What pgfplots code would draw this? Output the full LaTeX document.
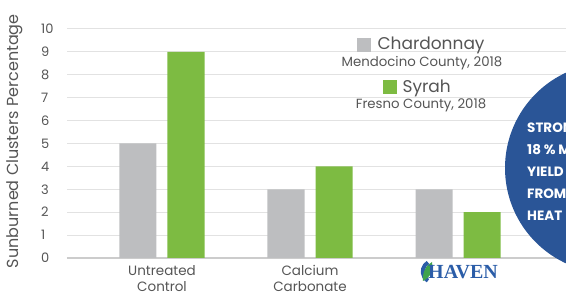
\documentclass[border=0pt]{standalone}
\usepackage{pgfplots}
\pgfplotsset{compat=1.18}
\usepackage{fontspec}
\setmainfont{Poppins}
\newfontfamily\serifhaven{Liberation Serif}
\definecolor{chgray}{HTML}{BDBEC0}
\definecolor{syrgreen}{HTML}{7DBB42}
\definecolor{circblue}{HTML}{2A5597}
\definecolor{txtgray}{HTML}{555555}
\definecolor{gridgray}{HTML}{E2E2E2}
\definecolor{havenblue}{HTML}{2B5DA8}
\definecolor{leafgreen}{HTML}{3FA34D}
\begin{document}
\begin{tikzpicture}[x=1pt,y=1pt]
\useasboundingbox (0,0) rectangle (566,295);
\begin{scope}
\clip (0,0) rectangle (566,295);
\begin{axis}[
  at={(162pt,37pt)}, anchor=origin,
  x=148pt, y=22.9pt,
  xmin=-0.642, xmax=2.8,
  ymin=0, ymax=10,
  axis line style={draw=none},
  major tick length=0pt,
  ytick={0,1,...,10},
  ymajorgrids,
  grid style={gridgray, line width=1pt},
  xtick={0,1,2},
  xticklabels={Untreated\\Control, Calcium\\Carbonate, {}},
  xticklabel style={align=center, font=\fontsize{13.5}{16.5}\selectfont, text=txtgray, yshift=-3.5pt},
  yticklabel style={font=\fontsize{13}{14}\selectfont, text=txtgray, anchor=west, inner sep=0pt, xshift=-26pt},
  /pgf/number format/assume math mode=true,
  ylabel={Sunburned Clusters Percentage},
  ylabel style={font=\fontsize{16}{18}\selectfont, text=txtgray, at={(axis description cs:-0.102,0.51)}, anchor=center},
  clip=false,
  bar width=37pt,
]
\draw[gray!40, line width=1.2pt] (axis cs:-0.642,0) -- (axis cs:2.8,0);
\addplot[ybar, bar shift=-24pt, fill=chgray, draw=none] coordinates {(0,5) (1,3) (2,3)};
\addplot[ybar, bar shift=24pt, fill=syrgreen, draw=none] coordinates {(0,9) (1,4) (2,2)};
\end{axis}
% legend
\fill[chgray] (357,243) rectangle (371,257);
\node[anchor=west, text=txtgray, font=\fontsize{17}{19}\selectfont] at (374,250) {Chardonnay};
\node[text=txtgray, font=\fontsize{13.3}{15}\selectfont] at (422,232) {Mendocino County, 2018};
\fill[syrgreen] (383,201) rectangle (397,215);
\node[anchor=west, text=txtgray, font=\fontsize{17}{19}\selectfont] at (399,207) {Syrah};
\node[text=txtgray, font=\fontsize{13.3}{15}\selectfont] at (421,190) {Fresno County, 2018};
% HAVEN logo label
\draw[havenblue, line width=4pt] (428,32.5) arc (120:240:10.5);
\fill[leafgreen] (423,14) .. controls (422,22) and (426,30) .. (432,33) .. controls (434,26) and (431,18) .. (423,14);
\node[anchor=west, text=havenblue, font=\serifhaven\bfseries\fontsize{20}{21}\selectfont, inner sep=0pt] at (428,22.5) {HAVEN};
% circle
\fill[circblue] (610,127) circle (105);
\node[anchor=north west, align=left, text=white, font=\bfseries\fontsize{13.5}{22}\selectfont, inner sep=0pt] at (527,172) {STRONG\\18 \% MORE\\YIELD\\FROM\\HEAT};
\end{scope}
\end{tikzpicture}
\end{document}
